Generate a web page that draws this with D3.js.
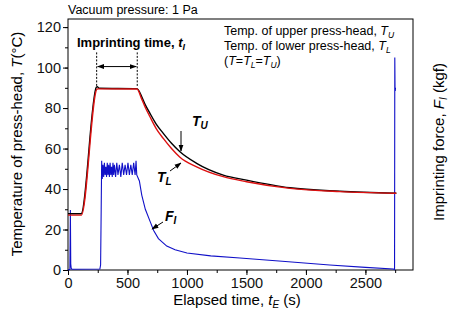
<!DOCTYPE html>
<html>
<head>
<meta charset="utf-8">
<script src="https://cdn.jsdelivr.net/npm/d3@7"></script>
<style>
  body { margin: 0; background: #fff; }
  text { font-family: "Liberation Sans", Arial, Helvetica, sans-serif; }
</style>
</head>
<body>
<div id="chart"></div>
<script>
// upper press-head temperature (black)
var tuTime = [0, 110, 238, 246, 260, 580, 620, 650, 689, 740, 801, 870, 941, 1081, 1305, 1501, 1866, 2286, 2760];
var tuVals = [27.8, 27.8, 90.3, 90.6, 89.8, 89.6, 85.6, 81.6, 77.4, 72.2, 67.5, 62.6, 58.4, 52.7, 46.9, 44.4, 40.6, 38.9, 37.9];

// lower press-head temperature (red)
var tlTime = [0, 112, 244, 252, 580, 620, 650, 689, 740, 801, 870, 941, 1081, 1305, 1501, 1866, 2286, 2760];
var tlVals = [27.1, 27.1, 89.4, 89.5, 89.4, 84.4, 80.3, 75.7, 70.0, 65.0, 60.0, 55.7, 51.0, 46.1, 43.6, 40.3, 38.7, 37.9];

// imprinting force (blue)
var fTime = [0, 16, 20, 23, 27, 32, 268, 274, 279, 283,
  288, 294, 300, 306, 312, 318, 324, 330, 336, 342, 348, 354, 360, 366, 372, 378, 384, 390,
  400, 410, 420, 432, 444, 456, 468, 480, 492, 504, 516, 528, 540, 552, 564, 572, 578,
  600, 620, 650, 690, 720, 760, 830, 900, 1000, 1200, 1445, 1800, 2200, 2500, 2735, 2745,
  2747, 2749, 2751, 2753];
var fVals = [0, 0.3, 29.6, 3, 0.8, 0.4, 0.5, 2.5, 30, 54,
  45, 52, 46, 53, 47, 51, 46, 53, 47, 52, 46, 53, 47, 51, 46, 53, 47, 52,
  46, 53, 47, 52, 46, 53, 47, 52, 47, 53, 47, 52, 47, 53, 47, 54, 47,
  44, 37, 30, 24, 19.5, 15.5, 11.8, 10, 8.4, 7, 5.9, 4.3, 2.5, 1.3, 0.5, 0.2,
  105, 89, 88.5, 90];

var xTicks = [0, 500, 1000, 1500, 2000, 2500];
var yTicks = [0, 20, 40, 60, 80, 100, 120];
var imprintStart = 241, imprintEnd = 582;

var width = 450, height = 325;
var margin = {left: 68, right: 37, top: 19, bottom: 55};

var svg = d3.select("#chart").append("svg")
    .attr("width", width)
    .attr("height", height);

var x = d3.scaleLinear().domain([0, 2900]).range([margin.left, width - margin.right]);
var y = d3.scaleLinear().domain([0, 124]).range([height - margin.bottom, margin.top]);
var yF = d3.scaleLinear().domain([0, 124]).range([height - margin.bottom, margin.top]);

// frame
svg.append("rect")
    .attr("x", x(0)).attr("y", y(124))
    .attr("width", x(2900) - x(0)).attr("height", y(0) - y(124))
    .attr("fill", "none").attr("stroke", "#000").attr("stroke-width", 1);

// x axis with minor ticks
var xAxis = svg.append("g").attr("transform", "translate(0," + y(0) + ")");
xAxis.call(d3.axisBottom(x).tickValues(d3.range(0, 2900, 250)).tickSize(3).tickFormat(""))
    .call(function(g) { g.select(".domain").remove(); });
var xMajor = svg.append("g").attr("transform", "translate(0," + y(0) + ")")
    .call(d3.axisBottom(x).tickValues(xTicks).tickSize(5).tickPadding(3).tickFormat(d3.format("d")));
xMajor.select(".domain").remove();
xMajor.selectAll("text").attr("font-size", 14.5).attr("fill", "#111");

// y axis with minor ticks
var yAxis = svg.append("g").attr("transform", "translate(" + x(0) + ",0)");
yAxis.call(d3.axisLeft(y).tickValues(d3.range(0, 124, 10)).tickSize(3).tickFormat(""))
    .call(function(g) { g.select(".domain").remove(); });
var yMajor = svg.append("g").attr("transform", "translate(" + x(0) + ",0)")
    .call(d3.axisLeft(y).tickValues(yTicks).tickSize(5).tickPadding(2));
yMajor.select(".domain").remove();
yMajor.selectAll("text").attr("font-size", 14.5).attr("fill", "#111");

// lines
var tLine = function(times) {
  return d3.line()
    .x(function(d, i) { return x(times[i]); })
    .y(function(d) { return y(d); })
    .curve(d3.curveMonotoneX);
};

svg.append("path").datum(fVals)
    .attr("d", d3.line()
        .x(function(d, i) { return x(fTime[i]); })
        .y(function(d) { return yF(d); }))
    .attr("fill", "none").attr("stroke", "#1010c8").attr("stroke-width", 1.1);

svg.append("path").datum(tuVals)
    .attr("d", tLine(tuTime))
    .attr("fill", "none").attr("stroke", "#000").attr("stroke-width", 1.4);

svg.append("path").datum(tlVals)
    .attr("d", tLine(tlTime))
    .attr("fill", "none").attr("stroke", "#dd1010").attr("stroke-width", 1.4);

// arrow marker
var defs = svg.append("defs");
defs.append("marker")
    .attr("id", "arr")
    .attr("viewBox", "0 0 10 10")
    .attr("refX", 9).attr("refY", 5)
    .attr("markerWidth", 7).attr("markerHeight", 7)
    .attr("orient", "auto-start-reverse")
    .append("path").attr("d", "M0,1.5 L10,5 L0,8.5 Z").attr("fill", "#000");

// imprinting time annotation
[imprintStart, imprintEnd].forEach(function(t) {
  svg.append("line")
      .attr("x1", x(t)).attr("x2", x(t))
      .attr("y1", y(107.5)).attr("y2", y(90.5))
      .attr("stroke", "#000").attr("stroke-width", 1)
      .attr("stroke-dasharray", "2,1.5");
});
svg.append("line")
    .attr("x1", x(imprintStart) + 1).attr("x2", x(imprintEnd) - 1)
    .attr("y1", y(100.5)).attr("y2", y(100.5))
    .attr("stroke", "#000").attr("stroke-width", 1)
    .attr("marker-start", "url(#arr)").attr("marker-end", "url(#arr)");

var it = svg.append("text").attr("x", 77).attr("y", 47)
    .attr("font-size", 13).attr("font-weight", "bold");
it.append("tspan").text("Imprinting time, ");
it.append("tspan").attr("font-style", "italic").text("t");
it.append("tspan").attr("font-style", "italic").attr("font-size", 9).attr("dy", 3).text("I");

// curve labels
function subLabel(px, py, main, sub) {
  var t = svg.append("text").attr("x", px).attr("y", py)
      .attr("font-size", 14).attr("font-weight", "bold").attr("font-style", "italic");
  t.append("tspan").text(main);
  t.append("tspan").attr("font-size", 10).attr("dy", 3).text(sub);
}
subLabel(192, 126, "T", "U");
subLabel(157, 182, "T", "L");
subLabel(165, 221, "F", "I");

function arrow(x1, y1, x2, y2) {
  svg.append("line")
      .attr("x1", x1).attr("y1", y1).attr("x2", x2).attr("y2", y2)
      .attr("stroke", "#000").attr("stroke-width", 1)
      .attr("marker-end", "url(#arr)");
}
arrow(181, 131, 181, 151);
arrow(170, 171, 181, 163);
arrow(163, 222, 152, 229);

// legend text
function legendLine(py, parts) {
  var t = svg.append("text").attr("x", 224).attr("y", py).attr("font-size", 12.5);
  parts.forEach(function(p) {
    var s = t.append("tspan").text(p.s);
    if (p.it) s.attr("font-style", "italic");
    if (p.sub) s.attr("font-size", 8.5).attr("dy", 3);
    if (p.up) s.attr("dy", -3);
  });
}
legendLine(35, [{s: "Temp. of upper press-head, "}, {s: "T", it: true}, {s: "U", it: true, sub: true}]);
legendLine(50, [{s: "Temp. of lower press-head, "}, {s: "T", it: true}, {s: "L", it: true, sub: true}]);
legendLine(65, [{s: "("}, {s: "T", it: true}, {s: "=", }, {s: "T", it: true}, {s: "L", it: true, sub: true},
  {s: "=", up: true}, {s: "T", it: true}, {s: "U", it: true, sub: true}, {s: ")", up: true}]);

// titles
svg.append("text").attr("x", 68).attr("y", 14).attr("font-size", 12.5).text("Vacuum pressure: 1 Pa");

var xt = svg.append("text").attr("x", 237).attr("y", 305)
    .attr("text-anchor", "middle").attr("font-size", 15);
xt.append("tspan").text("Elapsed time, ");
xt.append("tspan").attr("font-style", "italic").text("t");
xt.append("tspan").attr("font-style", "italic").attr("font-size", 10).attr("dy", 3).text("E");
xt.append("tspan").attr("dy", -3).text(" (s)");

var yt = svg.append("text")
    .attr("transform", "translate(22,144) rotate(-90)")
    .attr("text-anchor", "middle").attr("font-size", 15);
yt.append("tspan").text("Temperature of press-head, ");
yt.append("tspan").attr("font-style", "italic").text("T");
yt.append("tspan").text("(°C)");

var ft = svg.append("text")
    .attr("transform", "translate(444,142) rotate(-90)")
    .attr("text-anchor", "middle").attr("font-size", 15);
ft.append("tspan").text("Imprinting force, ");
ft.append("tspan").attr("font-style", "italic").text("F");
ft.append("tspan").attr("font-style", "italic").attr("font-size", 10).attr("dy", 3).text("I");
ft.append("tspan").attr("dy", -3).text(" (kgf)");
</script>
</body>
</html>
